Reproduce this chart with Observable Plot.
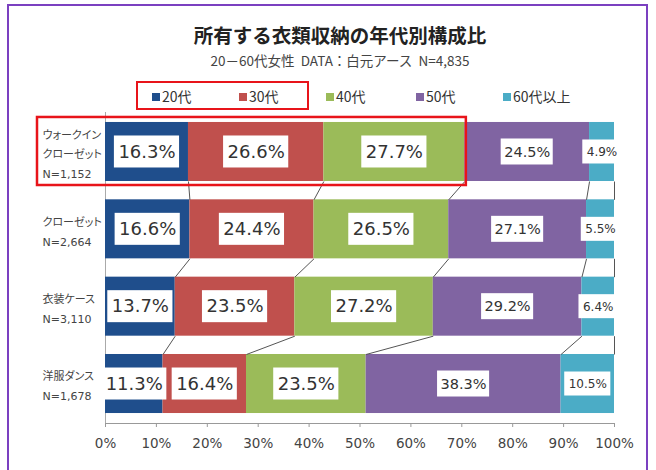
<!DOCTYPE html>
<html><head><meta charset="utf-8">
<script src="https://cdn.jsdelivr.net/npm/d3@7"></script>
<script src="https://cdn.jsdelivr.net/npm/@observablehq/plot@0.6"></script>
<style>
body{margin:0;background:#fff;}
#wrap{position:relative;width:656px;height:470px;overflow:hidden;background:#fff;font-family:"Noto Sans CJK JP","Noto Sans",sans-serif;}
#frame{position:absolute;left:7px;top:4px;width:641px;height:520px;border:2px solid #7b40c0;box-sizing:border-box;}
#title{position:absolute;left:0;width:680px;top:24px;text-align:center;font-size:19.5px;line-height:22px;font-weight:bold;color:#222;}
#subtitle{position:absolute;left:0;width:680px;top:51px;text-align:center;font-size:13.5px;line-height:18px;color:#444;}
#hl{position:absolute;left:136px;top:81px;width:173px;height:29px;border:2px solid #e8141a;box-sizing:border-box;}
.lg{position:absolute;top:87px;font-size:14px;line-height:18px;color:#333;white-space:nowrap;}
.sw{display:inline-block;width:8px;height:8px;margin-right:2px;vertical-align:1px;}
#chart{position:absolute;left:0;top:0;}
#chart text{font-feature-settings:"palt";}
</style>
</head><body>
<div id="wrap">
  <div id="frame"></div>
  <div id="title">所有する衣類収納の年代別構成比</div>
  <div id="subtitle">20－60代女性&nbsp; DATA：白元アース&nbsp; N=4,835</div>
  <div id="hl"></div>
  <div id="legend"></div>
  <div id="chart"></div>
</div>
<script>
// ---- data ----
const categories = ["ウォークイン\nクローゼット", "クローゼット", "衣装ケース", "洋服ダンス"];
const counts = ["N=1,152", "N=2,664", "N=3,110", "N=1,678"];
const ages = ["20代", "30代", "40代", "50代", "60代以上"];
const v20 = [16.3, 16.6, 13.7, 11.3];
const v30 = [26.6, 24.4, 23.5, 16.4];
const v40 = [27.7, 26.5, 27.2, 23.5];
const v50 = [24.5, 27.1, 29.2, 38.3];
const v60 = [4.9, 5.5, 6.4, 10.5];
const xTicks = [0, 10, 20, 30, 40, 50, 60, 70, 80, 90, 100];

// ---- styles ----
const colors = ["#1f4e8c", "#c0504d", "#9bbb59", "#8064a2", "#4bacc6"];
const legendX = [152, 239, 326, 416, 503];

// legend (HTML)
const lg = document.getElementById("legend");
ages.forEach((a, k) => {
  const s = document.createElement("div");
  s.className = "lg";
  s.style.left = legendX[k] + "px";
  s.innerHTML = `<span class="sw" style="background:${colors[k]}"></span>${a}`;
  lg.appendChild(s);
});

// ---- derived table ----
const series = [v20, v30, v40, v50, v60];
const segs = [];
categories.forEach((c, i) => {
  const total = d3.sum(series, s => s[i]);
  let cum = 0;
  series.forEach((s, k) => {
    const x1 = cum / total * 100;
    cum += s[i];
    const x2 = cum / total * 100;
    segs.push({i, k, age: ages[k], value: s[i], x1, x2, mid: (x1 + x2) / 2, text: s[i].toFixed(1) + "%"});
  });
});
const rows = categories.map((c, i) => ({i, label: c + "\n" + counts[i]}));

const H = 0.3816;   // half bar thickness (row units)
const PO = 0.129;   // outer padding (row units)
const links = [];
for (let i = 0; i < categories.length - 1; i++) {
  for (let k = 0; k < ages.length; k++) {
    links.push({xa: segs[i * 5 + k].x2, ya: i + H, xb: segs[(i + 1) * 5 + k].x2, yb: i + 1 - H});
  }
}

// label boxes
const cls = [
  {fs: 18, h: 32, pad: 4},
  {fs: 14.5, h: 26, pad: 3},
  {fs: 12, h: 24, pad: 4}
];
const clsOf = k => k < 3 ? cls[0] : (k === 3 ? cls[1] : cls[2]);
const tw = (t, fs) => fs * d3.sum(t.split(""), ch => ch === "." ? 0.318 : ch === "%" ? 0.95 : 0.636);
const boxMarks = segs.map(d => {
  const c = clsOf(d.k);
  const w = tw(d.text, c.fs) + 2 * c.pad;
  return Plot.rect([d], {x1: "mid", x2: "mid", y1: "i", y2: "i", fill: "white",
    insetLeft: -w / 2, insetRight: -w / 2, insetTop: -c.h / 2, insetBottom: -c.h / 2});
});

const highlight = [{x1: segs[0].x1, x2: segs[2].x2, i: 0}];

const chart = Plot.plot({
  width: 656, height: 470,
  marginLeft: 105, marginRight: 42, marginTop: 112, marginBottom: 47,
  style: {fontFamily: "'DejaVu Sans','Noto Sans CJK JP',sans-serif", background: "transparent", color: "#444"},
  x: {domain: [0, 100], axis: null},
  y: {domain: [-H - PO, categories.length - 1 + H + PO], reverse: true, axis: null},
  color: {domain: ages, range: colors},
  marks: [
    Plot.ruleX([0], {stroke: "#aaa"}),
    Plot.rect(segs, {x1: "x1", x2: "x2", y1: d => d.i - H, y2: d => d.i + H, fill: "age"}),
    Plot.link(links, {x1: "xa", y1: "ya", x2: "xb", y2: "yb", stroke: "#555", strokeWidth: 1}),
    Plot.rect(highlight, {x1: "x1", x2: "x2", y1: d => d.i - H, y2: d => d.i + H, fill: "none",
      stroke: "#e8141a", strokeWidth: 2.5, insetLeft: -68, insetRight: -1.5, insetTop: -5, insetBottom: -4}),
    ...boxMarks,
    Plot.text(segs.filter(d => d.k < 3), {x: "mid", y: "i", text: "text", fontSize: 18, fill: "#333"}),
    Plot.text(segs.filter(d => d.k === 3), {x: "mid", y: "i", text: "text", fontSize: 14.5, fill: "#333"}),
    Plot.text(segs.filter(d => d.k === 4), {x: "mid", y: "i", text: "text", fontSize: 12, fill: "#333"}),
    Plot.text(rows, {frameAnchor: "left", y: "i", text: "label", textAnchor: "start", dx: -63,
      fontSize: 11, lineHeight: 1.8, fill: "#444", fontFamily: "'DejaVu Sans','Noto Sans CJK JP',sans-serif"}),
    Plot.ruleY([categories.length - 1 + H + PO], {stroke: "#999"}),
    Plot.axisX({ticks: xTicks, tickFormat: d => d + "%", tickSize: 4, tickPadding: 11, fontSize: 13.5,
      stroke: "#999", fill: "#444", label: null})
  ]
});
document.getElementById("chart").appendChild(chart);
</script>
</body></html>
